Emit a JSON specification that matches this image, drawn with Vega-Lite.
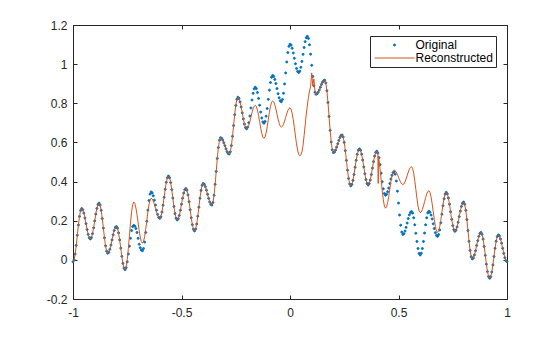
{
"$schema": "https://vega.github.io/schema/vega-lite/v6.json",
"width": 434, "height": 274,
"autosize": {"type": "none"},
"padding": {"left": 73, "top": 25, "right": 53, "bottom": 38},
"background": "white",
"config": {"view": {"stroke": "#262626", "strokeWidth": 1}, "axis": {"labelFont": "Liberation Sans", "labelFontSize": 12, "labelColor": "#262626", "tickColor": "#262626", "grid": false, "domain": false, "title": null, "tickSize": -4, "tickWidth": 1, "labelFlush": false},
 "legend": {"title": null, "orient": "top-right", "offset": 11, "fillColor": "white", "strokeColor": "#262626", "padding": 3, "labelFont": "Liberation Sans", "labelFontSize": 12, "labelColor": "#000000", "labelOffset": 15, "rowPadding": 1, "symbolOffset": 15.5, "symbolStrokeWidth": 1}},
"data": {"values": [
{"x":-1,"o":-0.01,"r":-0.01},{"x":-0.995,"o":0,"r":0},{"x":-0.99,"o":0.03,"r":0.03},{"x":-0.985,"o":0.074,"r":0.074},{"x":-0.98,"o":0.126,"r":0.126},{"x":-0.975,"o":0.178,"r":0.178},{"x":-0.97,"o":0.222,"r":0.222},{"x":-0.965,"o":0.252,"r":0.252},
{"x":-0.96,"o":0.262,"r":0.262},{"x":-0.955,"o":0.256,"r":0.256},{"x":-0.95,"o":0.239,"r":0.239},{"x":-0.945,"o":0.214,"r":0.214},{"x":-0.94,"o":0.185,"r":0.185},{"x":-0.935,"o":0.155,"r":0.155},{"x":-0.93,"o":0.13,"r":0.13},{"x":-0.925,"o":0.113,"r":0.113},
{"x":-0.92,"o":0.107,"r":0.107},{"x":-0.915,"o":0.114,"r":0.114},{"x":-0.91,"o":0.134,"r":0.134},{"x":-0.905,"o":0.164,"r":0.164},{"x":-0.9,"o":0.199,"r":0.199},{"x":-0.895,"o":0.234,"r":0.234},{"x":-0.89,"o":0.263,"r":0.263},{"x":-0.885,"o":0.283,"r":0.283},
{"x":-0.88,"o":0.29,"r":0.29},{"x":-0.875,"o":0.28,"r":0.28},{"x":-0.87,"o":0.253,"r":0.253},{"x":-0.865,"o":0.211,"r":0.211},{"x":-0.86,"o":0.162,"r":0.162},{"x":-0.855,"o":0.113,"r":0.113},{"x":-0.85,"o":0.072,"r":0.072},{"x":-0.845,"o":0.044,"r":0.044},
{"x":-0.84,"o":0.034,"r":0.034},{"x":-0.835,"o":0.039,"r":0.039},{"x":-0.83,"o":0.054,"r":0.054},{"x":-0.825,"o":0.076,"r":0.076},{"x":-0.82,"o":0.102,"r":0.102},{"x":-0.815,"o":0.128,"r":0.128},{"x":-0.81,"o":0.15,"r":0.15},{"x":-0.805,"o":0.165,"r":0.165},
{"x":-0.8,"o":0.17,"r":0.17},{"x":-0.795,"o":0.162,"r":0.162},{"x":-0.79,"o":0.138,"r":0.138},{"x":-0.785,"o":0.102,"r":0.102},{"x":-0.78,"o":0.06,"r":0.06},{"x":-0.775,"o":0.018,"r":0.018},{"x":-0.77,"o":-0.018,"r":-0.018},{"x":-0.765,"o":-0.042,"r":-0.042},
{"x":-0.76,"o":-0.05,"r":-0.05},{"x":-0.755,"o":-0.04,"r":-0.037},{"x":-0.75,"o":-0.01,"r":0.001},{"x":-0.745,"o":0.03,"r":0.057},{"x":-0.74,"o":0.07,"r":0.123},{"x":-0.735,"o":0.11,"r":0.189},{"x":-0.73,"o":0.15,"r":0.245},{"x":-0.725,"o":0.17,"r":0.283},
{"x":-0.72,"o":0.176,"r":0.296},{"x":-0.715,"o":0.172,"r":0.288},{"x":-0.71,"o":0.16,"r":0.265},{"x":-0.705,"o":0.14,"r":0.231},{"x":-0.7,"o":0.11,"r":0.191},{"x":-0.695,"o":0.08,"r":0.15},{"x":-0.69,"o":0.062,"r":0.116},{"x":-0.685,"o":0.05,"r":0.093},
{"x":-0.68,"o":0.047,"r":0.085},{"x":-0.675,"o":0.058,"r":0.094},{"x":-0.67,"o":0.091,"r":0.119},{"x":-0.665,"o":0.14,"r":0.156},{"x":-0.66,"o":0.197,"r":0.2},{"x":-0.655,"o":0.254,"r":0.244},{"x":-0.65,"o":0.303,"r":0.281},{"x":-0.645,"o":0.336,"r":0.306},
{"x":-0.64,"o":0.347,"r":0.315},{"x":-0.635,"o":0.342,"r":0.311},{"x":-0.63,"o":0.327,"r":0.3},{"x":-0.625,"o":0.305,"r":0.283},{"x":-0.62,"o":0.28,"r":0.264},{"x":-0.615,"o":0.254,"r":0.244},{"x":-0.61,"o":0.232,"r":0.227},{"x":-0.605,"o":0.217,"r":0.216},
{"x":-0.6,"o":0.212,"r":0.212},{"x":-0.595,"o":0.22,"r":0.22},{"x":-0.59,"o":0.244,"r":0.244},{"x":-0.585,"o":0.279,"r":0.279},{"x":-0.58,"o":0.32,"r":0.32},{"x":-0.575,"o":0.361,"r":0.361},{"x":-0.57,"o":0.396,"r":0.396},{"x":-0.565,"o":0.42,"r":0.42},
{"x":-0.56,"o":0.428,"r":0.428},{"x":-0.555,"o":0.42,"r":0.42},{"x":-0.55,"o":0.395,"r":0.395},{"x":-0.545,"o":0.359,"r":0.359},{"x":-0.54,"o":0.316,"r":0.316},{"x":-0.535,"o":0.273,"r":0.273},{"x":-0.53,"o":0.237,"r":0.237},{"x":-0.525,"o":0.213,"r":0.213},
{"x":-0.52,"o":0.204,"r":0.204},{"x":-0.515,"o":0.21,"r":0.21},{"x":-0.51,"o":0.227,"r":0.227},{"x":-0.505,"o":0.253,"r":0.253},{"x":-0.5,"o":0.284,"r":0.284},{"x":-0.495,"o":0.315,"r":0.315},{"x":-0.49,"o":0.341,"r":0.341},{"x":-0.485,"o":0.358,"r":0.358},
{"x":-0.48,"o":0.364,"r":0.364},{"x":-0.475,"o":0.356,"r":0.356},{"x":-0.47,"o":0.332,"r":0.332},{"x":-0.465,"o":0.297,"r":0.297},{"x":-0.46,"o":0.256,"r":0.256},{"x":-0.455,"o":0.215,"r":0.215},{"x":-0.45,"o":0.18,"r":0.18},{"x":-0.445,"o":0.156,"r":0.156},
{"x":-0.44,"o":0.148,"r":0.148},{"x":-0.435,"o":0.157,"r":0.157},{"x":-0.43,"o":0.183,"r":0.183},{"x":-0.425,"o":0.223,"r":0.223},{"x":-0.42,"o":0.269,"r":0.269},{"x":-0.415,"o":0.315,"r":0.315},{"x":-0.41,"o":0.355,"r":0.355},{"x":-0.405,"o":0.381,"r":0.381},
{"x":-0.4,"o":0.39,"r":0.39},{"x":-0.395,"o":0.386,"r":0.386},{"x":-0.39,"o":0.374,"r":0.374},{"x":-0.385,"o":0.356,"r":0.356},{"x":-0.38,"o":0.335,"r":0.335},{"x":-0.375,"o":0.314,"r":0.314},{"x":-0.37,"o":0.296,"r":0.296},{"x":-0.365,"o":0.284,"r":0.284},
{"x":-0.36,"o":0.28,"r":0.28},{"x":-0.355,"o":0.293,"r":0.293},{"x":-0.35,"o":0.33,"r":0.33},{"x":-0.345,"o":0.386,"r":0.386},{"x":-0.34,"o":0.452,"r":0.452},{"x":-0.335,"o":0.518,"r":0.518},{"x":-0.33,"o":0.574,"r":0.574},{"x":-0.325,"o":0.611,"r":0.611},
{"x":-0.32,"o":0.624,"r":0.624},{"x":-0.315,"o":0.621,"r":0.621},{"x":-0.31,"o":0.612,"r":0.612},{"x":-0.305,"o":0.598,"r":0.598},{"x":-0.3,"o":0.583,"r":0.583},{"x":-0.295,"o":0.567,"r":0.567},{"x":-0.29,"o":0.553,"r":0.553},{"x":-0.285,"o":0.544,"r":0.544},
{"x":-0.28,"o":0.541,"r":0.541},{"x":-0.275,"o":0.552,"r":0.552},{"x":-0.27,"o":0.584,"r":0.584},{"x":-0.265,"o":0.631,"r":0.631},{"x":-0.26,"o":0.686,"r":0.686},{"x":-0.255,"o":0.742,"r":0.742},{"x":-0.25,"o":0.789,"r":0.789},{"x":-0.245,"o":0.82,"r":0.82},
{"x":-0.24,"o":0.831,"r":0.831},{"x":-0.235,"o":0.825,"r":0.825},{"x":-0.23,"o":0.807,"r":0.807},{"x":-0.225,"o":0.781,"r":0.781},{"x":-0.22,"o":0.751,"r":0.751},{"x":-0.215,"o":0.72,"r":0.72},{"x":-0.21,"o":0.694,"r":0.694},{"x":-0.205,"o":0.676,"r":0.676},
{"x":-0.2,"o":0.67,"r":0.67},{"x":-0.195,"o":0.678,"r":0.675},{"x":-0.19,"o":0.701,"r":0.688},{"x":-0.185,"o":0.735,"r":0.707},{"x":-0.18,"o":0.776,"r":0.73},{"x":-0.175,"o":0.817,"r":0.753},{"x":-0.17,"o":0.851,"r":0.772},{"x":-0.165,"o":0.874,"r":0.785},
{"x":-0.16,"o":0.882,"r":0.79},{"x":-0.155,"o":0.875,"r":0.784},{"x":-0.15,"o":0.855,"r":0.765},{"x":-0.145,"o":0.825,"r":0.738},{"x":-0.14,"o":0.79,"r":0.706},{"x":-0.135,"o":0.755,"r":0.673},{"x":-0.13,"o":0.725,"r":0.646},{"x":-0.125,"o":0.705,"r":0.627},
{"x":-0.12,"o":0.698,"r":0.621},{"x":-0.115,"o":0.707,"r":0.628},{"x":-0.11,"o":0.734,"r":0.649},{"x":-0.105,"o":0.773,"r":0.68},{"x":-0.1,"o":0.82,"r":0.717},{"x":-0.095,"o":0.867,"r":0.753},{"x":-0.09,"o":0.906,"r":0.784},{"x":-0.085,"o":0.933,"r":0.805},
{"x":-0.08,"o":0.942,"r":0.812},{"x":-0.075,"o":0.937,"r":0.807},{"x":-0.07,"o":0.922,"r":0.792},{"x":-0.065,"o":0.901,"r":0.771},{"x":-0.06,"o":0.875,"r":0.745},{"x":-0.055,"o":0.849,"r":0.719},{"x":-0.05,"o":0.828,"r":0.698},{"x":-0.045,"o":0.813,"r":0.683},
{"x":-0.04,"o":0.808,"r":0.678},{"x":-0.035,"o":0.819,"r":0.682},{"x":-0.03,"o":0.851,"r":0.693},{"x":-0.025,"o":0.899,"r":0.709},{"x":-0.02,"o":0.955,"r":0.728},{"x":-0.015,"o":1.011,"r":0.746},{"x":-0.01,"o":1.059,"r":0.763},{"x":-0.005,"o":1.091,"r":0.773},
{"x":0,"o":1.102,"r":0.777},{"x":0.005,"o":1.097,"r":0.77},{"x":0.01,"o":1.081,"r":0.748},{"x":0.015,"o":1.057,"r":0.716},{"x":0.02,"o":1.03,"r":0.676},{"x":0.025,"o":1.002,"r":0.633},{"x":0.03,"o":0.978,"r":0.593},{"x":0.035,"o":0.963,"r":0.561},
{"x":0.04,"o":0.957,"r":0.539},{"x":0.045,"o":0.964,"r":0.532},{"x":0.05,"o":0.984,"r":0.536},{"x":0.055,"o":1.014,"r":0.552},{"x":0.06,"o":1.05,"r":0.585},{"x":0.065,"o":1.085,"r":0.635},{"x":0.07,"o":1.115,"r":0.69},{"x":0.075,"o":1.135,"r":0.745},
{"x":0.08,"o":1.142,"r":0.79},{"x":0.085,"o":1.131,"r":0.83},{"x":0.09,"o":1.099,"r":0.862},{"x":0.095,"o":1.051,"r":0.885},{"x":0.1,"o":0.994,"r":0.955},{"x":0.105,"o":0.937,"r":0.89},{"x":0.11,"o":0.889,"r":0.925},{"x":0.115,"o":0.857,"r":0.865},
{"x":0.12,"o":0.846,"r":0.846},{"x":0.125,"o":0.849,"r":0.849},{"x":0.13,"o":0.857,"r":0.857},{"x":0.135,"o":0.868,"r":0.868},{"x":0.14,"o":0.882,"r":0.882},{"x":0.145,"o":0.896,"r":0.896},{"x":0.15,"o":0.908,"r":0.908},{"x":0.155,"o":0.915,"r":0.915},
{"x":0.16,"o":0.918,"r":0.918},{"x":0.165,"o":0.904,"r":0.904},{"x":0.17,"o":0.864,"r":0.864},{"x":0.175,"o":0.804,"r":0.804},{"x":0.18,"o":0.733,"r":0.733},{"x":0.185,"o":0.662,"r":0.662},{"x":0.19,"o":0.602,"r":0.602},{"x":0.195,"o":0.562,"r":0.562},
{"x":0.2,"o":0.548,"r":0.548},{"x":0.205,"o":0.551,"r":0.551},{"x":0.21,"o":0.561,"r":0.561},{"x":0.215,"o":0.576,"r":0.576},{"x":0.22,"o":0.593,"r":0.593},{"x":0.225,"o":0.61,"r":0.61},{"x":0.23,"o":0.625,"r":0.625},{"x":0.235,"o":0.635,"r":0.635},
{"x":0.24,"o":0.638,"r":0.638},{"x":0.245,"o":0.628,"r":0.628},{"x":0.25,"o":0.6,"r":0.6},{"x":0.255,"o":0.558,"r":0.558},{"x":0.26,"o":0.508,"r":0.508},{"x":0.265,"o":0.458,"r":0.458},{"x":0.27,"o":0.416,"r":0.416},{"x":0.275,"o":0.388,"r":0.388},
{"x":0.28,"o":0.378,"r":0.378},{"x":0.285,"o":0.385,"r":0.385},{"x":0.29,"o":0.406,"r":0.406},{"x":0.295,"o":0.436,"r":0.436},{"x":0.3,"o":0.473,"r":0.473},{"x":0.305,"o":0.509,"r":0.509},{"x":0.31,"o":0.539,"r":0.539},{"x":0.315,"o":0.56,"r":0.56},
{"x":0.32,"o":0.567,"r":0.567},{"x":0.325,"o":0.56,"r":0.56},{"x":0.33,"o":0.54,"r":0.54},{"x":0.335,"o":0.51,"r":0.51},{"x":0.34,"o":0.475,"r":0.475},{"x":0.345,"o":0.44,"r":0.44},{"x":0.35,"o":0.41,"r":0.41},{"x":0.355,"o":0.39,"r":0.39},
{"x":0.36,"o":0.383,"r":0.383},{"x":0.365,"o":0.39,"r":0.39},{"x":0.37,"o":0.408,"r":0.408},{"x":0.375,"o":0.436,"r":0.436},{"x":0.38,"o":0.469,"r":0.469},{"x":0.385,"o":0.502,"r":0.502},{"x":0.39,"o":0.53,"r":0.53},{"x":0.395,"o":0.549,"r":0.549},
{"x":0.4,"o":0.555,"r":0.555},{"x":0.405,"o":0.546,"r":0.545},{"x":0.4065,"r":0.39},{"x":0.408,"r":0.53},{"x":0.41,"o":0.522,"r":0.512},{"x":0.415,"o":0.486,"r":0.465},{"x":0.42,"o":0.443,"r":0.41},{"x":0.425,"o":0.399,"r":0.354},{"x":0.43,"o":0.363,"r":0.307},{"x":0.435,"o":0.339,"r":0.275},
{"x":0.44,"o":0.33,"r":0.264},{"x":0.445,"o":0.335,"r":0.271},{"x":0.45,"o":0.348,"r":0.293},{"x":0.455,"o":0.367,"r":0.324},{"x":0.46,"o":0.39,"r":0.362},{"x":0.465,"o":0.413,"r":0.399},{"x":0.47,"o":0.432,"r":0.43},{"x":0.475,"o":0.445,"r":0.452},
{"x":0.48,"o":0.45,"r":0.459},{"x":0.485,"o":0.438,"r":0.456},{"x":0.49,"o":0.403,"r":0.448},{"x":0.495,"o":0.351,"r":0.436},{"x":0.5,"o":0.29,"r":0.422},{"x":0.505,"o":0.229,"r":0.408},{"x":0.51,"o":0.177,"r":0.396},{"x":0.515,"o":0.142,"r":0.388},
{"x":0.52,"o":0.13,"r":0.385},{"x":0.525,"o":0.134,"r":0.388},{"x":0.53,"o":0.147,"r":0.398},{"x":0.535,"o":0.166,"r":0.413},{"x":0.54,"o":0.188,"r":0.43},{"x":0.545,"o":0.211,"r":0.448},{"x":0.55,"o":0.23,"r":0.463},{"x":0.555,"o":0.242,"r":0.472},
{"x":0.56,"o":0.247,"r":0.476},{"x":0.565,"o":0.239,"r":0.467},{"x":0.57,"o":0.215,"r":0.442},{"x":0.575,"o":0.179,"r":0.404},{"x":0.58,"o":0.136,"r":0.359},{"x":0.585,"o":0.094,"r":0.314},{"x":0.59,"o":0.058,"r":0.275},{"x":0.595,"o":0.033,"r":0.25},
{"x":0.6,"o":0.025,"r":0.241},{"x":0.605,"o":0.034,"r":0.245},{"x":0.61,"o":0.058,"r":0.257},{"x":0.615,"o":0.094,"r":0.276},{"x":0.62,"o":0.137,"r":0.297},{"x":0.625,"o":0.179,"r":0.318},{"x":0.63,"o":0.215,"r":0.337},{"x":0.635,"o":0.24,"r":0.349},
{"x":0.64,"o":0.248,"r":0.353},{"x":0.645,"o":0.243,"r":0.345},{"x":0.65,"o":0.229,"r":0.322},{"x":0.655,"o":0.209,"r":0.287},{"x":0.66,"o":0.184,"r":0.247},{"x":0.665,"o":0.16,"r":0.206},{"x":0.67,"o":0.139,"r":0.171},{"x":0.675,"o":0.125,"r":0.148},
{"x":0.68,"o":0.12,"r":0.14},{"x":0.685,"o":0.129,"r":0.148},{"x":0.69,"o":0.153,"r":0.17},{"x":0.695,"o":0.189,"r":0.203},{"x":0.7,"o":0.233,"r":0.243},{"x":0.705,"o":0.276,"r":0.282},{"x":0.71,"o":0.312,"r":0.315},{"x":0.715,"o":0.336,"r":0.337},
{"x":0.72,"o":0.345,"r":0.345},{"x":0.725,"o":0.337,"r":0.337},{"x":0.73,"o":0.316,"r":0.316},{"x":0.735,"o":0.284,"r":0.284},{"x":0.74,"o":0.246,"r":0.246},{"x":0.745,"o":0.207,"r":0.207},{"x":0.75,"o":0.175,"r":0.175},{"x":0.755,"o":0.154,"r":0.154},
{"x":0.76,"o":0.146,"r":0.146},{"x":0.765,"o":0.152,"r":0.152},{"x":0.77,"o":0.168,"r":0.168},{"x":0.775,"o":0.192,"r":0.192},{"x":0.78,"o":0.221,"r":0.221},{"x":0.785,"o":0.249,"r":0.249},{"x":0.79,"o":0.273,"r":0.273},{"x":0.795,"o":0.289,"r":0.289},
{"x":0.8,"o":0.295,"r":0.295},{"x":0.805,"o":0.284,"r":0.284},{"x":0.81,"o":0.253,"r":0.253},{"x":0.815,"o":0.206,"r":0.206},{"x":0.82,"o":0.15,"r":0.15},{"x":0.825,"o":0.095,"r":0.095},{"x":0.83,"o":0.048,"r":0.048},{"x":0.835,"o":0.016,"r":0.016},
{"x":0.84,"o":0.005,"r":0.005},{"x":0.845,"o":0.01,"r":0.01},{"x":0.85,"o":0.025,"r":0.025},{"x":0.855,"o":0.047,"r":0.047},{"x":0.86,"o":0.073,"r":0.073},{"x":0.865,"o":0.098,"r":0.098},{"x":0.87,"o":0.12,"r":0.12},{"x":0.875,"o":0.135,"r":0.135},
{"x":0.88,"o":0.14,"r":0.14},{"x":0.885,"o":0.131,"r":0.131},{"x":0.89,"o":0.106,"r":0.106},{"x":0.895,"o":0.068,"r":0.068},{"x":0.9,"o":0.023,"r":0.023},{"x":0.905,"o":-0.022,"r":-0.022},{"x":0.91,"o":-0.06,"r":-0.06},{"x":0.915,"o":-0.085,"r":-0.085},
{"x":0.92,"o":-0.094,"r":-0.094},{"x":0.925,"o":-0.086,"r":-0.086},{"x":0.93,"o":-0.062,"r":-0.062},{"x":0.935,"o":-0.026,"r":-0.026},{"x":0.94,"o":0.017,"r":0.017},{"x":0.945,"o":0.059,"r":0.059},{"x":0.95,"o":0.095,"r":0.095},{"x":0.955,"o":0.119,"r":0.119},
{"x":0.96,"o":0.127,"r":0.127},{"x":0.965,"o":0.122,"r":0.122},{"x":0.97,"o":0.107,"r":0.107},{"x":0.975,"o":0.085,"r":0.085},{"x":0.98,"o":0.059,"r":0.059},{"x":0.985,"o":0.033,"r":0.033},{"x":0.99,"o":0.011,"r":0.011},{"x":0.995,"o":-0.004,"r":-0.004},
{"x":1,"o":-0.009,"r":-0.009}
]},
"transform": [{"fold": ["o", "r"], "as": ["s", "v"]}],
"layer": [
{"transform": [{"filter": "datum.s === 'o'"}],
 "mark": {"type": "point", "filled": false, "fill": "#0072BD", "strokeWidth": 1, "opacity": 1},
 "encoding": {
  "x": {"field": "x", "type": "quantitative", "scale": {"domain": [-1, 1], "nice": false, "zero": false}, "axis": {"orient": "bottom", "values": [-1, -0.5, 0, 0.5, 1], "labelExpr": "'' + datum.value", "labelPadding": 12}},
  "y": {"field": "v", "type": "quantitative", "scale": {"domain": [-0.2, 1.2], "nice": false, "zero": false}, "axis": {"orient": "left", "values": [-0.2, 0, 0.2, 0.4, 0.6, 0.8, 1, 1.2], "labelExpr": "'' + datum.value", "labelPadding": 10}},
  "color": {"field": "s", "type": "nominal", "scale": {"domain": ["o", "r"], "range": ["#0072BD", "#D95319"]}, "legend": {"labelExpr": "datum.label === 'o' ? 'Original' : 'Reconstructed'"}},
  "shape": {"field": "s", "type": "nominal", "scale": {"domain": ["o", "r"], "range": ["circle", "M-5,0H5"]}, "legend": {"labelExpr": "datum.label === 'o' ? 'Original' : 'Reconstructed'"}},
  "size": {"field": "s", "type": "nominal", "scale": {"domain": ["o", "r"], "range": [4, 64]}, "legend": {"labelExpr": "datum.label === 'o' ? 'Original' : 'Reconstructed'"}}
 }},
{"transform": [{"filter": "datum.s === 'r'"}],
 "mark": {"type": "line", "strokeWidth": 1},
 "encoding": {
  "x": {"field": "x", "type": "quantitative", "axis": {"orient": "top", "values": [-1, -0.5, 0, 0.5, 1], "labels": false}},
  "y": {"field": "v", "type": "quantitative", "axis": {"orient": "right", "values": [-0.2, 0, 0.2, 0.4, 0.6, 0.8, 1, 1.2], "labels": false}},
  "color": {"field": "s", "type": "nominal"}
 }}
],
"resolve": {"axis": {"x": "independent", "y": "independent"}}
}
